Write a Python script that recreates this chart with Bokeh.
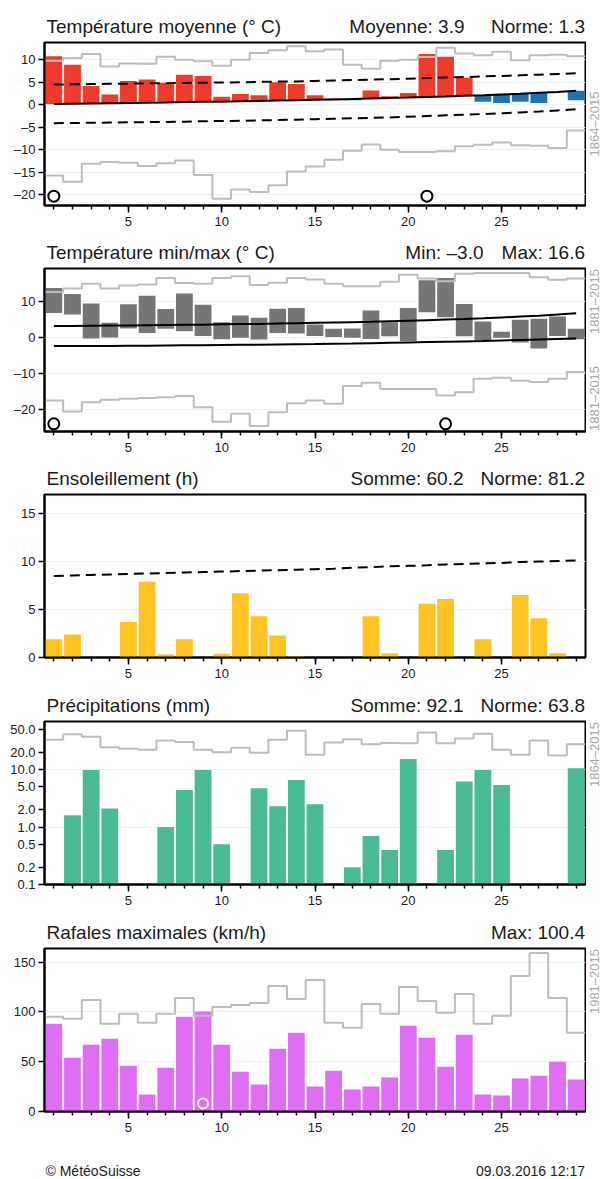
import numpy as np
from bokeh.plotting import figure
from bokeh.layouts import column, row
from bokeh.models import FixedTicker, CustomJSTickFormatter, Range1d
from bokeh.core.properties import value
from bokeh.embed import file_html
from bokeh.resources import INLINE

FONT = "Liberation Sans"
days = list(range(1, 30))
x_ticks = [5, 10, 15, 20, 25]

# ---- Température moyenne ----
temp_mean = [10.8, 8.9, 4.2, 2.3, 5.3, 5.6, 4.9, 6.7, 6.4, 1.8, 2.4, 2.1, 5.0, 4.6, 2.1,
             1.4, 1.0, 3.2, 1.9, 2.6, 11.3, 10.7, 6.0, 0.7, 0.4, 0.7, 0.4, 2.85, 1.0]
temp_norm = [0.2, 0.25, 0.3, 0.35, 0.4, 0.45, 0.5, 0.6, 0.65, 0.7, 0.8, 0.85, 0.95, 1.0, 1.1,
             1.2, 1.3, 1.4, 1.5, 1.6, 1.75, 1.85, 2.0, 2.1, 2.3, 2.45, 2.65, 2.85, 3.1]
temp_upper = [4.5, 4.55, 4.6, 4.65, 4.7, 4.75, 4.8, 4.85, 4.9, 4.95, 5.0, 5.1, 5.15, 5.2, 5.3,
              5.4, 5.5, 5.6, 5.7, 5.8, 5.95, 6.05, 6.15, 6.3, 6.4, 6.55, 6.7, 6.85, 7.0]
temp_lower = [-4.1, -4.05, -4.0, -3.95, -3.9, -3.85, -3.8, -3.75, -3.65, -3.6, -3.55, -3.45, -3.4, -3.3, -3.2,
              -3.1, -3.0, -2.9, -2.8, -2.65, -2.5, -2.35, -2.2, -2.05, -1.9, -1.7, -1.5, -1.25, -1.0]
temp_env_max = [9.8, 10.4, 11.3, 8.5, 9.2, 9.1, 10.7, 10.0, 9.7, 8.7, 10.0, 11.5, 12.1, 13.0, 11.9,
                12.3, 8.9, 8.0, 9.8, 10.0, 10.6, 12.7, 11.4, 11.0, 11.8, 9.9, 11.0, 11.1, 10.8]
temp_env_min = [-15.7, -17.1, -13.1, -12.7, -12.9, -13.6, -13.0, -12.4, -15.6, -20.9, -18.8, -19.4, -17.9, -14.8, -13.7,
                -12.2, -10.2, -8.8, -10.0, -10.5, -10.5, -10.3, -9.2, -8.9, -8.4, -9.0, -9.1, -9.6, -5.7]
temp_record_days = [1, 21]
temp_record_y = [-20.3, -20.3]

# ---- Température min/max ----
tmax = [13.8, 12.2, 9.5, 4.2, 9.3, 11.7, 8.0, 12.3, 9.2, 4.3, 6.2, 5.6, 8.1, 8.3, 3.7,
        2.5, 2.6, 7.6, 4.3, 8.3, 16.0, 16.6, 9.4, 4.5, 1.7, 5.0, 5.3, 5.9, 2.5]
tmin = [6.9, 6.5, -0.2, 0.1, 2.6, 1.3, 2.5, 1.8, 0.5, -0.4, 0.0, -0.5, 1.3, 1.2, 0.5,
        0.2, 0.0, -0.3, 0.4, -0.9, 7.1, 5.7, 0.4, -0.7, 0.0, -1.3, -3.0, 0.5, -0.4]
tmax_norm = [3.3, 3.3, 3.35, 3.4, 3.45, 3.5, 3.55, 3.6, 3.65, 3.75, 3.8, 3.85, 3.95, 4.05, 4.15,
             4.25, 4.35, 4.45, 4.6, 4.75, 4.9, 5.05, 5.2, 5.4, 5.65, 5.9, 6.15, 6.45, 6.8]
tmin_norm = [-2.3, -2.3, -2.25, -2.25, -2.2, -2.2, -2.15, -2.1, -2.05, -2.0, -1.95, -1.9, -1.85, -1.8, -1.75,
             -1.65, -1.6, -1.5, -1.4, -1.3, -1.2, -1.1, -1.0, -0.9, -0.75, -0.6, -0.45, -0.3, -0.2]
tmax_env = [12.7, 13.7, 15.0, 13.7, 14.5, 14.8, 16.6, 15.2, 15.0, 16.6, 17.1, 14.7, 15.3, 16.6, 16.2,
            15.0, 14.3, 14.3, 15.6, 17.5, 16.5, 15.7, 17.8, 18.0, 18.0, 18.0, 16.8, 16.1, 16.5]
tmin_env = [-17.4, -20.5, -17.9, -17.2, -16.9, -16.7, -16.5, -16.2, -19.3, -23.3, -21.1, -24.5, -20.7, -18.2, -17.4,
            -18.3, -13.4, -12.5, -14.2, -14.2, -14.2, -16.0, -15.1, -11.4, -11.1, -11.9, -12.3, -11.4, -9.5]
tminmax_record_days = [1, 22]
tminmax_record_y = [-23.9, -23.9]

# ---- Ensoleillement ----
sunshine = [1.9, 2.4, 0, 0, 3.7, 7.9, 0.35, 1.9, 0, 0.4, 6.7, 4.3, 2.3, 0.15, 0,
            0, 0, 4.3, 0.45, 0, 5.6, 6.1, 0, 1.9, 0, 6.5, 4.1, 0.45, 0]
sunshine_norm = [8.5, 8.55, 8.6, 8.65, 8.7, 8.75, 8.8, 8.85, 8.9, 8.95, 9.0, 9.05, 9.1, 9.15, 9.2,
                 9.25, 9.35, 9.4, 9.5, 9.55, 9.6, 9.7, 9.75, 9.8, 9.85, 9.95, 10.0, 10.05, 10.1]

# ---- Précipitations ----
precip = [0, 1.6, 9.8, 2.1, 0, 0, 1.0, 4.4, 9.8, 0.5, 0, 4.7, 2.3, 6.6, 2.5,
          0, 0.2, 0.7, 0.4, 15.3, 0, 0.4, 6.2, 9.8, 5.4, 0, 0, 0, 10.5]
precip_env = [33, 41, 37, 24.5, 23, 22, 32, 30, 22, 20, 24, 19.5, 33, 47, 18,
              29.5, 33.5, 27.5, 29, 28.5, 44, 28.5, 34.5, 42, 22, 18, 32, 17.5, 27.5]
precip_ticks = [0.1, 0.2, 0.5, 1, 2, 5, 10, 20, 50]

# ---- Rafales ----
gust = [88, 54, 67, 73, 46, 17, 44, 95, 100.4, 67, 40, 27, 63, 79, 25,
        41, 22, 25, 34, 86, 74, 45, 77, 17, 16, 33, 36, 50, 32]
gust_env = [95, 93, 112, 88, 98, 89, 98, 114, 96, 105, 107, 109, 126, 113, 132,
            89, 84, 108, 98, 125, 111, 99, 118, 88, 96, 136, 159, 114, 79]
gust_record_days = [9]
gust_record_y = [8]

# ---- Texts ----
titles = ["Température moyenne (° C)", "Température min/max (° C)", "Ensoleillement (h)",
          "Précipitations (mm)", "Rafales maximales (km/h)"]
stats_first = ["Moyenne: 3.9", "Min: –3.0", "Somme: 60.2", "Somme: 92.1", None]
stats_second = ["Norme: 1.3", "Max: 16.6", "Norme: 81.2", "Norme: 63.8", "Max: 100.4"]
periods = ["1864–2015", "1881–2015", None, "1864–2015", "1981–2015"]
footer_left = "© MétéoSuisse"
footer_right = "09.03.2016 12:17"

RED = "#EF3B2C"
BLUE = "#2171B5"
GREY_BAR = "#767676"
YELLOW = "#FFC423"
GREEN = "#4BBA97"
MAGENTA = "#DF6EF5"
ENV = "#BDBDBD"
TXT = "#1A1A1A"
SIDE = "#A8A8A8"

NEG_FMT = CustomJSTickFormatter(code="return tick < 0 ? '\u2013' + Math.abs(tick) : String(tick);")
LOG_FMT = CustomJSTickFormatter(code="return tick.toFixed(1);")

FRAME_L, FRAME_R = 44, 585
FRAME_H = 163
B_TOP, B_BOT = 1, 33
MAIN_H = B_TOP + FRAME_H + B_BOT


def step_xy(vals):
    edges = np.arange(len(vals) + 1) + 0.5
    return np.repeat(edges, 2)[1:-1], np.repeat(np.asarray(vals, dtype=float), 2)


def make_fig(width, y0, y1, yticks, log=False, grid_ticks=None):
    p = figure(width=width, height=MAIN_H, x_range=Range1d(0.5, 29.5), y_range=Range1d(y0, y1),
               y_axis_type="log" if log else "linear", output_backend="svg",
               toolbar_location=None, title=None,
               min_border_left=FRAME_L, min_border_right=width - FRAME_R, min_border_top=B_TOP,
               min_border_bottom=B_BOT)
    p.outline_line_color = "black"
    p.outline_line_width = 2
    p.outline_line_alpha = 1
    p.background_fill_color = "white"
    p.border_fill_color = "white"
    p.xgrid.visible = False
    p.ygrid.grid_line_color = "#EFEFEF"
    p.ygrid.grid_line_width = 1
    if grid_ticks is not None:
        p.ygrid.ticker = FixedTicker(ticks=grid_ticks)
    for ax in (p.xaxis[0], p.yaxis[0]):
        ax.axis_line_color = "black"
        ax.axis_line_width = 2
        ax.major_tick_line_color = "black"
        ax.major_tick_line_width = 1.5
        ax.minor_tick_line_color = "black"
        ax.minor_tick_line_width = 1.5
        ax.major_tick_in = 0
        ax.minor_tick_in = 0
        ax.major_label_text_font = FONT
        ax.major_label_text_font_size = "13px"
        ax.major_label_text_color = TXT
    p.xaxis.ticker = FixedTicker(ticks=x_ticks, minor_ticks=days)
    p.xaxis.major_tick_out = 7
    p.xaxis.minor_tick_out = 4
    p.xaxis.major_label_standoff = 4
    p.yaxis.ticker = FixedTicker(ticks=yticks)
    p.yaxis.minor_tick_line_color = None
    p.yaxis.major_tick_out = 6
    p.yaxis.major_label_standoff = 3
    p.yaxis.formatter = LOG_FMT if log else NEG_FMT
    return p


def text_fig(w, h, bl, br, bt, bb):
    # frame coordinates equal canvas pixels (x from left, y from bottom)
    f = figure(width=w, height=h, x_range=Range1d(bl, w - br), y_range=Range1d(bb, h - bt),
               output_backend="svg", toolbar_location=None, title=None,
               x_axis_location=None, y_axis_location=None,
               min_border=0, min_border_left=bl, min_border_right=br,
               min_border_top=bt, min_border_bottom=bb)
    f.outline_line_color = None
    f.grid.visible = False
    f.background_fill_color = "white"
    f.border_fill_color = "white"
    return f


def put(f, x, y, s, align="left", baseline="middle", size="19px", color=TXT, angle=0.0):
    f.text(x=[x], y=[y], text=[s], text_font=value(FONT), text_font_size=value(size),
           text_color=color, text_align=value(align), text_baseline=value(baseline), angle=angle)


def header(i, h, off1):
    f = text_fig(601, h, FRAME_L, 601 - FRAME_R, 0, 0)
    yc = 15
    put(f, 46, yc, titles[i])
    put(f, FRAME_R - 0.5, yc, stats_second[i], align="right")
    if stats_first[i]:
        put(f, FRAME_R - off1, yc, stats_first[i], align="right")
    return f


SIDE_W = 601 - 586


def side(i, mode):
    f = text_fig(SIDE_W, MAIN_H, 0, 0, B_TOP, B_BOT)
    top_y = MAIN_H - B_TOP - 0.5
    bot_y = B_BOT + 0.5
    xc = SIDE_W / 2
    kw = dict(baseline="middle", size="13px", color=SIDE, angle=np.pi / 2)
    if mode == "center":
        put(f, xc, (top_y + bot_y) / 2, periods[i], align="center", **kw)
    elif mode == "top":
        put(f, xc, top_y, periods[i], align="right", **kw)
    elif mode == "both":
        put(f, xc, top_y, periods[i], align="right", **kw)
        put(f, xc, bot_y, periods[i], align="left", **kw)
    return f


# ---------- Panel 1 ----------
p1 = make_fig(586, -22.38, 13.84, [-20, -15, -10, -5, 0, 5, 10])
bar_cols = [RED if v >= n else BLUE for v, n in zip(temp_mean, temp_norm)]
p1.vbar(x=days, bottom=temp_norm, top=temp_mean, width=0.9, fill_color=bar_cols, line_color=None)
xs, ys = step_xy(temp_env_max)
p1.line(xs, ys, line_color=ENV, line_width=2)
xs, ys = step_xy(temp_env_min)
p1.line(xs, ys, line_color=ENV, line_width=2)
p1.line(days, temp_norm, line_color="black", line_width=2)
p1.line(days, temp_upper, line_color="black", line_width=2, line_dash="10 6")
p1.line(days, temp_lower, line_color="black", line_width=2, line_dash="10 6")
p1.scatter(temp_record_days, temp_record_y, size=11, fill_color=None, line_color="black", line_width=2)

# ---------- Panel 2 ----------
p2 = make_fig(586, -26.03, 19.25, [-20, -10, 0, 10])
p2.vbar(x=days, bottom=tmin, top=tmax, width=0.9, fill_color=GREY_BAR, line_color=None)
xs, ys = step_xy(tmax_env)
p2.line(xs, ys, line_color=ENV, line_width=2)
xs, ys = step_xy(tmin_env)
p2.line(xs, ys, line_color=ENV, line_width=2)
p2.line(days, tmax_norm, line_color="black", line_width=2)
p2.line(days, tmin_norm, line_color="black", line_width=2)
p2.scatter(tminmax_record_days, tminmax_record_y, size=11, fill_color=None, line_color="black", line_width=2)

# ---------- Panel 3 ----------
p3 = make_fig(601, 0, 16.98, [0, 5, 10, 15])
p3.vbar(x=days, bottom=0, top=sunshine, width=0.9, fill_color=YELLOW, line_color=None)
p3.line(days, sunshine_norm, line_color="black", line_width=2, line_dash="10 6")

# ---------- Panel 4 ----------
p4 = make_fig(586, 0.1, 68.4, precip_ticks, log=True, grid_ticks=[0.1, 1, 10, 100])
pd_ = [d for d, v in zip(days, precip) if v > 0]
pv_ = [v for v in precip if v > 0]
p4.vbar(x=pd_, bottom=0.1, top=pv_, width=0.9, fill_color=GREEN, line_color=None)
xs, ys = step_xy(precip_env)
p4.line(xs, ys, line_color=ENV, line_width=2)

# ---------- Panel 5 ----------
p5 = make_fig(586, 0, 163.6, [0, 50, 100, 150])
p5.vbar(x=days, bottom=0, top=gust, width=0.9, fill_color=MAGENTA, line_color=None)
xs, ys = step_xy(gust_env)
p5.line(xs, ys, line_color=ENV, line_width=2)
p5.scatter(gust_record_days, gust_record_y, size=10, fill_color=None, line_color="white", line_width=2)

# ---------- Footer ----------
foot = text_fig(601, 35, FRAME_L, 601 - FRAME_R, 0, 0)
put(foot, 45, 9, footer_left, size="14px")
put(foot, FRAME_R - 0.5, 9, footer_right, align="right", size="14px")

layout = column(
    header(0, 41, 121), row(p1, side(0, "center"), spacing=0),
    header(1, 29, 102), row(p2, side(1, "both"), spacing=0),
    header(2, 29, 122), p3,
    header(3, 30, 122), row(p4, side(3, "top"), spacing=0),
    header(4, 30, 0), row(p5, side(4, "top"), spacing=0),
    foot,
    spacing=0,
)

with open("out.html", "w", encoding="utf-8") as fh:
    fh.write(file_html(layout, INLINE))
